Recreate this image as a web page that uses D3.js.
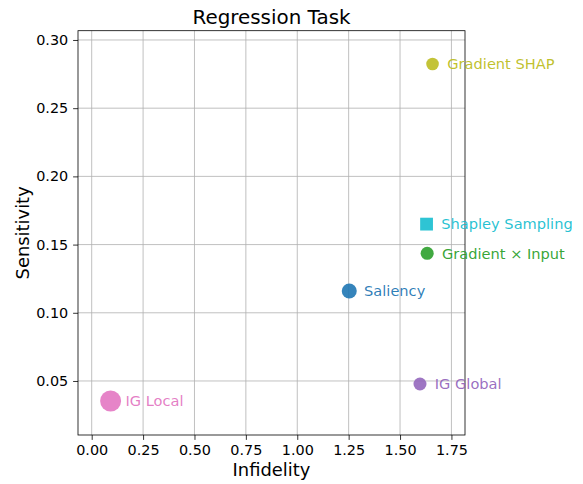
<!DOCTYPE html>
<html>
<head>
<meta charset="utf-8">
<script src="https://cdn.jsdelivr.net/npm/d3@7"></script>
<style>
  html, body { margin: 0; padding: 0; background: #fff; }
  svg { display: block; font-family: "DejaVu Sans", sans-serif; }
</style>
</head>
<body>
<svg id="chart" width="583" height="484"></svg>
<script>
// Explanation methods evaluated on the regression task
const methods = ["IG Local", "IG Global", "Gradient SHAP", "Shapley Sampling", "Gradient \u00d7 Input", "Saliency"];
const infidelity = [0.092, 1.597, 1.658, 1.629, 1.632, 1.253];
const sensitivity = [0.0353, 0.0478, 0.2824, 0.165, 0.1436, 0.116];
const markerRadius = [10.5, 6.5, 6.3, 6.4, 6.5, 7.5];
const markerShape = ["circle", "circle", "circle", "square", "circle", "circle"];
const colors = ["#e377c2", "#9467bd", "#bcbd22", "#17becf", "#2ca02c", "#1f77b4"];

const xTicks = [0, 0.25, 0.5, 0.75, 1.0, 1.25, 1.5, 1.75];
const yTicks = [0.05, 0.10, 0.15, 0.20, 0.25, 0.30];

const svg = d3.select("#chart");
const margin = { left: 78, top: 30.7, right: 465, bottom: 435 };

const x = d3.scaleLinear().domain([-0.0666, 1.816]).range([margin.left, margin.right]);
const y = d3.scaleLinear().domain([0.0104, 0.3068]).range([margin.bottom, margin.top]);

// grid
const grid = svg.append("g");
grid.selectAll("line.gx").data(xTicks).join("line")
  .attr("x1", d => x(d)).attr("x2", d => x(d))
  .attr("y1", margin.top).attr("y2", margin.bottom)
  .attr("stroke", "#b0b0b0").attr("stroke-width", 0.8);
grid.selectAll("line.gy").data(yTicks).join("line")
  .attr("y1", d => y(d)).attr("y2", d => y(d))
  .attr("x1", margin.left).attr("x2", margin.right)
  .attr("stroke", "#b0b0b0").attr("stroke-width", 0.8);

// axes
const xAxis = d3.axisBottom(x).tickValues(xTicks).tickFormat(d3.format(".2f"))
  .tickSize(4.9).tickPadding(4.9);
const yAxis = d3.axisLeft(y).tickValues(yTicks).tickFormat(d3.format(".2f"))
  .tickSize(4.9).tickPadding(4.9);

const gx = svg.append("g").attr("transform", `translate(0,${margin.bottom})`).call(xAxis);
const gy = svg.append("g").attr("transform", `translate(${margin.left},0)`).call(yAxis);
[gx, gy].forEach(g => {
  g.select(".domain").remove();
  g.selectAll("line").attr("stroke", "#000").attr("stroke-width", 0.8);
  g.selectAll("text").attr("fill", "#000").style("font-size", "14.4px")
    .style("font-family", "'DejaVu Sans', sans-serif");
});

// frame
svg.append("rect")
  .attr("x", margin.left).attr("y", margin.top)
  .attr("width", margin.right - margin.left).attr("height", margin.bottom - margin.top)
  .attr("fill", "none").attr("stroke", "#000").attr("stroke-width", 0.8);

// markers
const pts = methods.map((m, i) => ({ m, x: infidelity[i], y: sensitivity[i], r: markerRadius[i], shape: markerShape[i], c: colors[i] }));
const marks = svg.append("g");
pts.forEach(p => {
  if (p.shape === "square") {
    marks.append("rect")
      .attr("x", x(p.x) - p.r).attr("y", y(p.y) - p.r)
      .attr("width", 2 * p.r).attr("height", 2 * p.r)
      .attr("fill", p.c).attr("fill-opacity", 0.9);
  } else {
    marks.append("circle")
      .attr("cx", x(p.x)).attr("cy", y(p.y)).attr("r", p.r)
      .attr("fill", p.c).attr("fill-opacity", 0.9);
  }
});

// method labels, a fixed offset to the right of each marker
svg.append("g").selectAll("text").data(pts).join("text")
  .attr("x", d => x(d.x) + 14.8)
  .attr("y", d => y(d.y))
  .attr("dy", "0.36em")
  .attr("fill", d => d.c)
  .attr("fill-opacity", 0.95)
  .style("font-size", "14.6px")
  .text(d => d.m);

// titles
svg.append("text")
  .attr("x", (margin.left + margin.right) / 2).attr("y", 23.5)
  .attr("text-anchor", "middle").style("font-size", "19.9px").attr("fill", "#000")
  .text("Regression Task");
svg.append("text")
  .attr("x", (margin.left + margin.right) / 2).attr("y", 475.5)
  .attr("text-anchor", "middle").style("font-size", "17.9px").attr("fill", "#000")
  .text("Infidelity");
svg.append("text")
  .attr("transform", `translate(28.5,${(margin.top + margin.bottom) / 2}) rotate(-90)`)
  .attr("text-anchor", "middle").style("font-size", "17.9px").attr("fill", "#000")
  .text("Sensitivity");
</script>
</body>
</html>
